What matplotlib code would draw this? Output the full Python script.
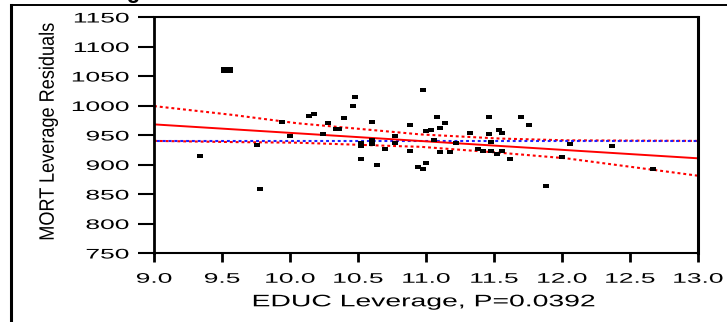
import matplotlib
matplotlib.use("Agg")
import matplotlib.pyplot as plt
from matplotlib.lines import Line2D
from matplotlib.patheffects import AbstractPathEffect
from matplotlib.transforms import Affine2D

# leverage residuals
educ = [9.34, 9.76, 9.78, 9.94, 10.00, 10.14, 10.18, 10.24, 10.28, 10.34,
        10.36, 10.40, 10.46, 10.48, 10.52, 10.52, 10.52, 10.60, 10.60, 10.60,
        10.64, 10.70, 10.77, 10.77, 10.88, 10.88, 10.94, 10.98, 10.98, 11.00,
        11.00, 11.04, 11.08, 11.10, 11.14, 11.06, 11.10, 11.18, 11.22, 11.32,
        11.38, 11.42, 11.46, 11.46, 11.48, 11.48, 11.52, 11.54, 11.56, 11.56,
        11.62, 11.70, 11.76, 11.88, 12.00, 12.06, 12.37, 12.67]
mort = [915, 933, 859, 972, 949, 983, 985, 952, 970, 960,
        960, 978, 1000, 1014, 936, 931, 910, 972, 941, 934,
        900, 926, 949, 936, 967, 923, 895, 1026, 892, 902,
        956, 959, 980, 962, 970, 941, 921, 921, 936, 954,
        926, 923, 980, 951, 938, 923, 918, 959, 954, 923,
        910, 980, 967, 864, 913, 934, 931, 892]
big_x = [9.54]   # the big square (several points on top of each other)
big_y = [1060]

# fit line, confidence curves and mean line
fit_x = [9.0, 13.0]
fit_y = [968, 910.5]
upper_x = [9.0, 9.58, 10.05, 10.96, 11.54, 12.03, 13.0]
upper_y = [999, 984, 970, 951, 944, 941, 940]
lower_x = [9.0, 9.58, 10.05, 10.81, 10.96, 11.54, 12.03, 13.0]
lower_y = [940, 938, 937, 931, 930, 920, 910.5, 881]
mean_y = 940

xticks = [9.0, 9.5, 10.0, 10.5, 11.0, 11.5, 12.0, 12.5, 13.0]
yticks = [750, 800, 850, 900, 950, 1000, 1050, 1100, 1150]


class Stretch(AbstractPathEffect):
    # widens (or narrows) the text along its baseline, like the wide jmp font
    def __init__(self, sx, anchor="center"):
        super().__init__()
        self.sx = sx
        self.anchor = anchor

    def draw_path(self, renderer, gc, tpath, affine, rgbFace=None):
        ext = tpath.get_extents()
        if self.anchor == "right":
            cx = ext.x1
        elif self.anchor == "left":
            cx = ext.x0
        else:
            cx = (ext.x0 + ext.x1) / 2
        t = Affine2D().translate(-cx, 0).scale(self.sx, 1).translate(cx, 0) + affine
        renderer.draw_path(gc, tpath, t, rgbFace)


plt.rcParams["font.family"] = ["Liberation Sans", "DejaVu Sans"]

W, H = 727, 322
fig = plt.figure(figsize=(W / 100, H / 100), dpi=100)
ax = fig.add_axes([154 / W, 1 - 253 / H, 544 / W, 236 / H])

ax.plot(upper_x, upper_y, color="#ff0000", lw=1.5, ls=(0, (1.4, 1.4)))
ax.plot(lower_x, lower_y, color="#ff0000", lw=1.5, ls=(0, (1.4, 1.4)))
ax.plot([9.0, 13.0], [mean_y, mean_y], color="#2020ff", lw=1.5, ls=(1.4, (1.4, 1.4)))
ax.plot(fit_x, fit_y, color="#ff0000", lw=1.4)

rect = [(-1, -0.55), (1, -0.55), (1, 0.55), (-1, 0.55), (-1, -0.55)]
ax.plot(educ, mort, ls="none", marker=rect, ms=5.0, color="black", mew=0)
ax.plot(big_x, big_y, ls="none", marker=rect, ms=8.2, color="black", mew=0)

ax.set_xlim(9.0, 13.0)
ax.set_ylim(750, 1150)
ax.set_xticks(xticks)
ax.set_xticklabels([f"{t:.1f}" for t in xticks])
ax.set_yticks(yticks)
ax.set_yticklabels([str(t) for t in yticks])

ax.tick_params(axis="y", length=11.5, width=1.5, pad=6.5, labelsize=10, colors="black")
ax.tick_params(axis="x", length=6.5, width=2.0, pad=7, labelsize=10, colors="black")
for lab in ax.get_xticklabels():
    lab.set_path_effects([Stretch(1.9)])
for lab in ax.get_yticklabels():
    lab.set_path_effects([Stretch(1.9, "right")])

ax.spines["left"].set_linewidth(2.0)
ax.spines["right"].set_linewidth(2.2)
ax.spines["top"].set_linewidth(1.5)
ax.spines["bottom"].set_linewidth(1.5)

xl = ax.set_xlabel("EDUC Leverage, P=0.0392", fontsize=12, va="top")
xl.set_path_effects([Stretch(1.7)])
ax.xaxis.set_label_coords(0.496, -0.175)
yl = ax.set_ylabel("MORT Leverage Residuals", fontsize=15)
yl.set_path_effects([Stretch(0.87)])
ax.yaxis.set_label_coords(-0.177, 0.515)

# outline box of the report and the cut off title above it
fig.add_artist(Line2D([11 / W, 11 / W], [0, 1 - 5 / H], transform=fig.transFigure,
                      color="black", lw=2.2))
fig.add_artist(Line2D([11 / W, 1], [1 - 5 / H, 1 - 5 / H], transform=fig.transFigure,
                      color="black", lw=1.4))
fig.text(55 / W, 1 + 1.7 / H, "Leverage Plot", fontsize=16, fontweight="bold",
         va="baseline", ha="left")

fig.savefig("out.png", dpi=100)
